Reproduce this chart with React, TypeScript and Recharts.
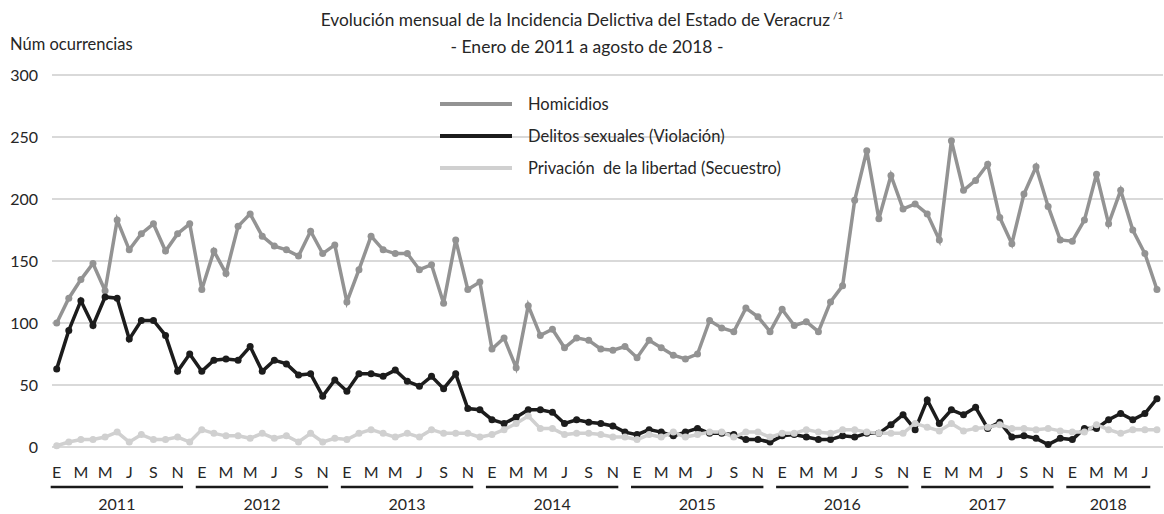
import React from 'react';
import { LineChart, Line, XAxis, YAxis, CartesianGrid, Legend, ReferenceLine } from 'recharts';

const FONT = 'Lato, "Open Sans", sans-serif';

const monthLetters = ['E', 'F', 'M', 'A', 'M', 'J', 'J', 'A', 'S', 'O', 'N', 'D'];
const years = ['2011', '2012', '2013', '2014', '2015', '2016', '2017', '2018'];
const yTicks = [0, 50, 100, 150, 200, 250, 300];
const seriesKeys = ['homicidios', 'delitos', 'privacion'];

// Ene 2011 - Ago 2018
const homicidios = [
  100, 120, 135, 148, 126, 183, 159, 172, 180, 158, 172, 180,
  127, 158, 140, 178, 188, 170, 162, 159, 154, 174, 156, 163,
  117, 143, 170, 159, 156, 156, 143, 147, 116, 167, 127, 133,
  79, 88, 64, 114, 90, 95, 80, 88, 86, 79, 78, 81,
  72, 86, 80, 74, 71, 75, 102, 96, 93, 112, 105, 93,
  111, 98, 101, 93, 117, 130, 199, 239, 184, 219, 192, 196,
  188, 167, 247, 207, 215, 228, 185, 164, 204, 226, 194, 167,
  166, 183, 220, 180, 207, 175, 156, 127,
];
const delitos = [
  63, 94, 118, 98, 121, 120, 87, 102, 102, 90, 61, 75,
  61, 70, 71, 70, 81, 61, 70, 67, 58, 59, 41, 54,
  45, 59, 59, 57, 62, 53, 49, 57, 47, 59, 31, 30,
  22, 19, 24, 30, 30, 28, 19, 22, 20, 19, 17, 12,
  10, 14, 12, 9, 12, 15, 11, 11, 10, 6, 6, 4,
  9, 10, 8, 6, 6, 9, 8, 11, 11, 18, 26, 14,
  38, 19, 30, 26, 32, 15, 20, 8, 9, 7, 2, 7,
  6, 15, 15, 22, 27, 22, 27, 39,
];
const privacion = [
  1, 4, 6, 6, 8, 12, 4, 10, 6, 6, 8, 4,
  14, 11, 9, 9, 7, 11, 7, 9, 4, 11, 4, 7,
  6, 11, 14, 11, 8, 11, 8, 14, 11, 11, 11, 8,
  10, 14, 19, 25, 15, 15, 10, 11, 11, 10, 8, 8,
  6, 10, 8, 12, 8, 10, 12, 12, 8, 12, 12, 8,
  11, 11, 14, 12, 11, 14, 14, 12, 11, 11, 11, 19,
  16, 13, 19, 13, 15, 16, 18, 15, 15, 14, 15, 13,
  12, 12, 18, 14, 11, 14, 14, 14,
];

const data = homicidios.map((h, i) => ({
  idx: i,
  homicidios: h,
  delitos: delitos[i],
  privacion: privacion[i],
}));
const lastIdx = data.length - 1;
const monthTicks = data.filter(d => d.idx % 2 === 0).map(d => d.idx);

// year bars under the month letters (below zero, drawn outside the plot)
const YEAR_BAR_Y = -32.3;
const yearBars = years.map((label, k) => {
  const start = k * 12;
  const end = Math.min(start + 11, lastIdx);
  return { label, x1: start - 0.5, x2: end - 0.55 };
});

const LegendContent = ({ payload }: any) => {
  const items = [...(payload || [])].sort(
    (a: any, b: any) => seriesKeys.indexOf(a.dataKey) - seriesKeys.indexOf(b.dataKey)
  );
  return (
    <div style={{ fontFamily: FONT, fontSize: 16.5, color: '#262626' }}>
      {items.map((p: any) => (
        <div key={p.value} style={{ display: 'flex', alignItems: 'center', height: 32 }}>
          <div style={{ width: 72, height: 4, background: p.color, marginRight: 16 }} />
          <span style={{ whiteSpace: 'pre' }}>{p.value}</span>
        </div>
      ))}
    </div>
  );
};

const dotFor = (color: string) => ({ r: 3.5, fill: color, stroke: 'none' });

const App: React.FC = () => {
  return (
    <div style={{ position: 'absolute', left: 0, top: 0, width: 1164, height: 514, background: '#fff' }}>
      <div style={{ position: 'absolute', left: 0, top: 9, width: 1164, textAlign: 'center', fontFamily: FONT, fontSize: 17.3, color: '#262626' }}>
        Evolución mensual de la Incidencia Delictiva del Estado de Veracruz
        <sup style={{ fontSize: 10, marginLeft: 3 }}>/1</sup>
      </div>
      <div style={{ position: 'absolute', left: 5, top: 36, width: 1164, textAlign: 'center', fontFamily: FONT, fontSize: 17.5, color: '#262626' }}>
        - Enero de 2011 a agosto de 2018 -
      </div>
      <div style={{ position: 'absolute', left: 10, top: 34, fontFamily: FONT, fontSize: 16.5, color: '#262626' }}>
        Núm ocurrencias
      </div>
      <LineChart width={1164} height={514} data={data} margin={{ top: 75, right: 1, bottom: 37, left: 8 }}>
        <CartesianGrid vertical={false} stroke="#d9d9d9" strokeWidth={2} />
        <XAxis
          dataKey="idx"
          type="number"
          height={30}
          domain={[-0.39, 91.5]}
          ticks={monthTicks}
          tickFormatter={(v: number) => monthLetters[v % 12]}
          axisLine={false}
          tickLine={false}
          tickSize={0}
          tickMargin={20}
          interval={0}
          tick={{ fontFamily: FONT, fontSize: 16, fill: '#262626' }}
        />
        <YAxis
          width={44}
          domain={[0, 300]}
          ticks={yTicks}
          axisLine={false}
          tickLine={false}
          tickSize={0}
          tickMargin={14}
          tick={{ fontFamily: FONT, fontSize: 16, fill: '#262626' }}
        />
        <Legend
          layout="vertical"
          align="center"
          verticalAlign="middle"
          content={<LegendContent />}
          wrapperStyle={{ top: 88, left: 440, width: 420 }}
        />
        {yearBars.map(b => (
          <ReferenceLine
            key={b.label}
            ifOverflow="visible"
            segment={[{ x: b.x1, y: YEAR_BAR_Y }, { x: b.x2, y: YEAR_BAR_Y }]}
            stroke="#1a1a1a"
            strokeWidth={2.5}
            label={{ value: b.label, position: 'bottom', offset: 12, fontFamily: FONT, fontSize: 16, fill: '#262626' }}
          />
        ))}
        <Line
          type="linear"
          dataKey="homicidios"
          name="Homicidios"
          stroke="#939393"
          strokeWidth={3.5}
          dot={dotFor('#939393')}
          activeDot={false}
          isAnimationActive={false}
        />
        <Line
          type="linear"
          dataKey="delitos"
          name="Delitos sexuales (Violación)"
          stroke="#1c1c1c"
          strokeWidth={3.5}
          dot={dotFor('#1c1c1c')}
          activeDot={false}
          isAnimationActive={false}
        />
        <Line
          type="linear"
          dataKey="privacion"
          name="Privación  de la libertad (Secuestro)"
          stroke="#d0d0d0"
          strokeWidth={3.5}
          dot={dotFor('#d0d0d0')}
          activeDot={false}
          isAnimationActive={false}
        />
      </LineChart>
    </div>
  );
};

export default App;
